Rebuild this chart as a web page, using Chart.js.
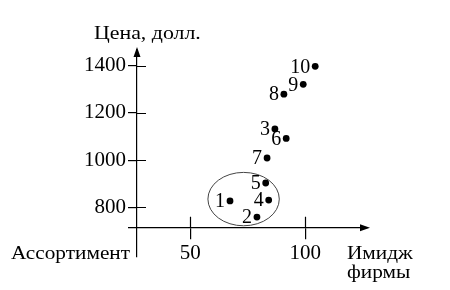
<!DOCTYPE html>
<html>
<head>
<meta charset="utf-8">
<script src="https://cdn.jsdelivr.net/npm/chart.js@4"></script>
<style>
  html, body { margin: 0; padding: 0; background: #fff; }
  #chart { display: block; }
</style>
</head>
<body>
<canvas id="chart" width="450" height="290"></canvas>
<script>
// firms: image score (x) vs price (y)
const firmLabels = ["1", "2", "3", "4", "5", "6", "7", "8", "9", "10"];
const imageScores = [67.3, 79.0, 86.8, 84.1, 82.8, 91.7, 83.4, 90.7, 99.1, 104.3];
const prices = [827, 759, 1132, 831, 903, 1092, 1009, 1279, 1321, 1397];
const xTicks = [50, 100];
const yTicks = [800, 1000, 1200, 1400];
// circled group (1, 2, 4, 5): centre and radii in data units
const groupCenter = [73.2, 835];
const groupRadius = [15.5, 113];

const serif = "'Liberation Serif', 'Times New Roman', serif";
const xAxisAt = 714;   // price where the horizontal axis sits

// captions in the source are a bit wider than the font, stretch them slightly
function wideText(ctx, text, x, y, sx) {
  ctx.save();
  ctx.translate(x, y);
  ctx.scale(sx, 1);
  ctx.fillText(text, 0, 0);
  ctx.restore();
}

const extras = {
  id: "extras",
  beforeDatasetsDraw(chart) {
    const { ctx, scales: { x, y } } = chart;
    const cx = x.getPixelForValue(groupCenter[0]);
    const cy = y.getPixelForValue(groupCenter[1]);
    const rx = x.getPixelForValue(groupCenter[0] + groupRadius[0]) - cx;
    const ry = cy - y.getPixelForValue(groupCenter[1] + groupRadius[1]);
    ctx.save();
    ctx.strokeStyle = "#444";
    ctx.lineWidth = 1;
    ctx.beginPath();
    ctx.ellipse(cx, cy, rx, ry, 0, 0, Math.PI * 2);
    ctx.stroke();
    ctx.restore();
  },
  afterDatasetsDraw(chart) {
    const ctx = chart.ctx;
    const meta = chart.getDatasetMeta(0);
    ctx.save();
    ctx.fillStyle = "#000";
    ctx.font = "20px " + serif;
    ctx.textAlign = "right";
    ctx.textBaseline = "middle";
    meta.data.forEach((pt, i) => {
      ctx.fillText(firmLabels[i], pt.x - 5, pt.y + 1);
    });
    ctx.restore();
  },
  afterDraw(chart) {
    const { ctx, chartArea: area, scales: { x, y } } = chart;
    const ox = area.left;
    const oy = y.getPixelForValue(xAxisAt);
    ctx.save();
    ctx.strokeStyle = "#000";
    ctx.fillStyle = "#000";
    ctx.lineWidth = 1.2;
    ctx.beginPath();
    // horizontal axis runs a little past the vertical one
    ctx.moveTo(ox - 9, oy);
    ctx.lineTo(ox, oy);
    // inner halves of the crossing tick marks
    yTicks.forEach(v => {
      const py = Math.round(y.getPixelForValue(v)) + 0.5;
      ctx.moveTo(ox, py);
      ctx.lineTo(ox + 9, py);
    });
    xTicks.forEach(v => {
      const px = Math.round(x.getPixelForValue(v)) + 0.5;
      ctx.moveTo(px, oy);
      ctx.lineTo(px, oy - 11);
    });
    ctx.stroke();
    // arrow heads
    ctx.beginPath();
    ctx.moveTo(ox, area.top - 3);
    ctx.lineTo(ox - 3.5, area.top + 7);
    ctx.lineTo(ox + 3.5, area.top + 7);
    ctx.closePath();
    ctx.moveTo(area.right + 3, oy);
    ctx.lineTo(area.right - 7, oy - 3.5);
    ctx.lineTo(area.right - 7, oy + 3.5);
    ctx.closePath();
    ctx.fill();
    // axis captions
    ctx.font = "19px " + serif;
    ctx.textBaseline = "alphabetic";
    ctx.textAlign = "left";
    wideText(ctx, "Цена, долл.", 94, 39, 1.15);
    wideText(ctx, "Ассортимент", 11, 259, 1.12);
    wideText(ctx, "Имидж", 347, 259, 1.12);
    wideText(ctx, "фирмы", 347, 278, 1.12);
    ctx.restore();
  }
};

new Chart(document.getElementById("chart"), {
  type: "scatter",
  data: {
    datasets: [{
      data: imageScores.map((v, i) => ({ x: v, y: prices[i] })),
      backgroundColor: "#000",
      borderWidth: 0,
      pointRadius: 3.4
    }]
  },
  options: {
    responsive: false,
    animation: false,
    devicePixelRatio: 1,
    layout: { padding: { left: 77, right: 83, top: 50, bottom: 33 } },
    plugins: { legend: { display: false }, tooltip: { enabled: false } },
    scales: {
      x: {
        type: "linear",
        position: { y: xAxisAt },
        min: 26.9,
        max: 126.8,
        afterBuildTicks: s => { s.ticks = xTicks.map(v => ({ value: v })); },
        grid: { drawOnChartArea: false, color: "#000", lineWidth: 1.2, tickLength: 11 },
        border: { color: "#000", width: 1.2 },
        ticks: { color: "#000", font: { family: serif, size: 21 }, padding: 2, maxRotation: 0, autoSkip: false }
      },
      y: {
        type: "linear",
        position: "left",
        min: 589.8,
        max: 1466.2,
        afterBuildTicks: s => { s.ticks = yTicks.map(v => ({ value: v })); },
        afterFit: s => { s.width = 60; },
        grid: { drawOnChartArea: false, color: "#000", lineWidth: 1.2, tickLength: 9 },
        border: { color: "#000", width: 1.2 },
        ticks: { color: "#000", font: { family: serif, size: 21 }, padding: 2, autoSkip: false,
                 callback: v => String(v) }
      }
    }
  },
  plugins: [extras]
});
</script>
</body>
</html>
